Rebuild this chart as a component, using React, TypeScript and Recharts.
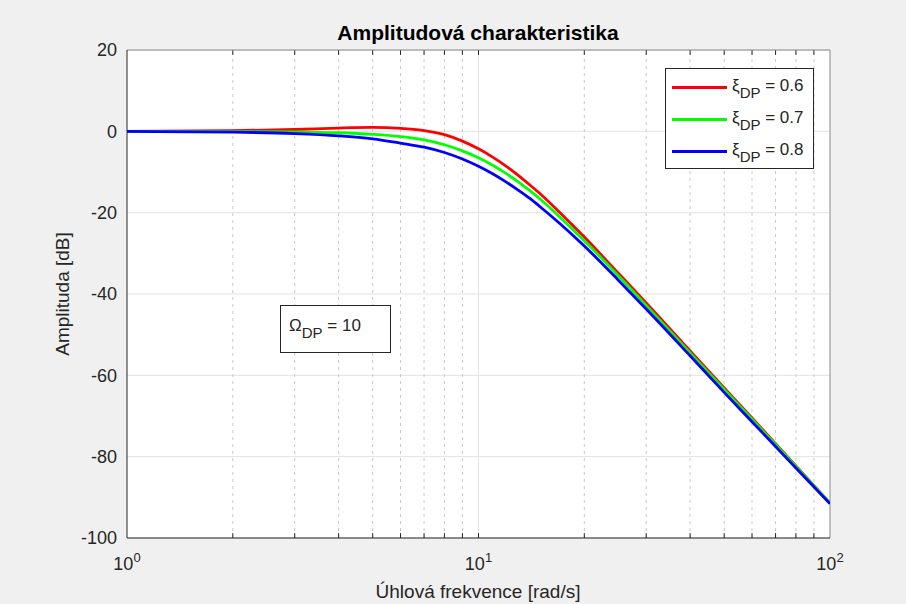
import {
  LineChart,
  Line,
  XAxis,
  YAxis,
  CartesianGrid,
  ReferenceLine,
} from 'recharts';

// Frequency grid [rad/s] and amplitude [dB] for each damping value
const FREQ = [1, 2, 3, 4, 5, 6, 7, 8, 9, 10, 11, 12, 13, 14, 15, 17, 20, 25, 30, 40, 50, 60, 70, 80, 100];
const XI_06 = [0, 0.15, 0.45, 0.8, 0.95, 0.75, 0.2, -0.8, -2.4, -4.3, -6.4, -8.6, -10.9, -13.2, -15.4, -19.9, -26.0, -34.9, -42.2, -54.0, -63.1, -70.5, -76.8, -82.3, -91.4];
const XI_07 = [0, -0.05, -0.15, -0.35, -0.75, -1.3, -2.1, -3.3, -4.8, -6.5, -8.4, -10.4, -12.5, -14.6, -16.7, -21.0, -26.9, -35.5, -42.8, -54.5, -63.5, -70.8, -77.0, -82.4, -91.4];
const XI_08 = [-0.02, -0.2, -0.55, -1.1, -1.85, -2.9, -3.9, -5.2, -6.8, -8.6, -10.5, -12.5, -14.5, -16.5, -18.6, -22.6, -28.2, -36.6, -43.7, -55.2, -64.2, -71.4, -77.5, -82.8, -91.6];

const Y_TICKS = [-100, -80, -60, -40, -20, 0, 20];
const X_TICKS = [1, 10, 100];
const MINOR_X = [2, 3, 4, 5, 6, 7, 8, 9, 20, 30, 40, 50, 60, 70, 80, 90];

const SERIES = [
  { key: 'xi06', label: '0.6', color: '#ff0000' },
  { key: 'xi07', label: '0.7', color: '#00ff00' },
  { key: 'xi08', label: '0.8', color: '#0000ff' },
];

const rows = FREQ.map((f, i) => ({ f, xi06: XI_06[i], xi07: XI_07[i], xi08: XI_08[i] }));

const FONT = '"Liberation Sans", Arial, Helvetica, sans-serif';
const INK = '#262626';

// 10^n style tick label for the log axis
function PowerTick(props: any) {
  const { x, y, payload } = props;
  const exp = Math.round(Math.log10(payload.value));
  return (
    <text x={x} y={y + 32} textAnchor="middle" fill={INK} fontSize={18} fontFamily={FONT}>
      <tspan>10</tspan>
      <tspan dy={-8} fontSize={13}>{exp}</tspan>
    </text>
  );
}

export default function App() {
  return (
    <div
      style={{
        position: 'absolute',
        left: 0,
        top: 0,
        width: 906,
        height: 604,
        background: '#f0f0f0',
        fontFamily: FONT,
        color: INK,
        overflow: 'hidden',
      }}
    >
      <LineChart width={906} height={604} data={rows} margin={{ top: 50, right: 76, bottom: 36, left: 67 }}>
        <CartesianGrid fill="#ffffff" stroke="#e3e3e3" vertical={false} />
        {MINOR_X.map((v) => (
          <ReferenceLine key={`g${v}`} x={v} stroke="#c9c9c9" strokeDasharray="3 4" />
        ))}
        <ReferenceLine x={10} stroke="#e3e3e3" />
        {/* inward tick marks on bottom and top edges */}
        {[...MINOR_X, 10].map((v) => (
          <ReferenceLine
            key={`tb${v}`}
            segment={[{ x: v, y: -100 }, { x: v, y: -98.8 }]}
            stroke={INK}
          />
        ))}
        {[...MINOR_X, 10].map((v) => (
          <ReferenceLine
            key={`tt${v}`}
            segment={[{ x: v, y: 20 }, { x: v, y: 18.8 }]}
            stroke={INK}
          />
        ))}
        <ReferenceLine y={20} stroke="#8a8a8a" />
        <ReferenceLine x={100} stroke="#8a8a8a" />
        <XAxis
          dataKey="f"
          type="number"
          scale="log"
          domain={[1, 100]}
          ticks={X_TICKS}
          allowDataOverflow
          height={30}
          stroke={INK}
          tickLine={false}
          tickSize={0}
          tickMargin={0}
          tick={<PowerTick />}
        />
        <YAxis
          type="number"
          domain={[-100, 20]}
          ticks={Y_TICKS}
          width={60}
          stroke={INK}
          tickLine={false}
          tickSize={0}
          tickMargin={10}
          tick={{ fill: INK, fontSize: 18, fontFamily: FONT }}
        />
        {SERIES.map((s) => (
          <Line
            key={s.key}
            type="monotone"
            dataKey={s.key}
            stroke={s.color}
            strokeWidth={2.8}
            dot={false}
            isAnimationActive={false}
          />
        ))}
      </LineChart>

      <div
        style={{
          position: 'absolute',
          left: 478,
          top: 33,
          transform: 'translate(-50%, -50%)',
          fontSize: 21,
          fontWeight: 'bold',
          whiteSpace: 'nowrap',
          color: '#000',
        }}
      >
        Amplitudová charakteristika
      </div>
      <div
        style={{
          position: 'absolute',
          left: 478,
          top: 592,
          transform: 'translate(-50%, -50%)',
          fontSize: 19,
          whiteSpace: 'nowrap',
        }}
      >
        Úhlová frekvence [rad/s]
      </div>
      <div
        style={{
          position: 'absolute',
          left: 63,
          top: 294,
          transform: 'translate(-50%, -50%) rotate(-90deg)',
          fontSize: 19,
          whiteSpace: 'nowrap',
        }}
      >
        Amplituda [dB]
      </div>

      {/* legend */}
      <div
        style={{
          position: 'absolute',
          left: 665,
          top: 68,
          width: 147,
          height: 99,
          background: '#fff',
          border: `1px solid ${INK}`,
        }}
      >
        {SERIES.map((s, i) => (
          <div
            key={s.key}
            style={{ position: 'absolute', left: 0, top: 18 + i * 32, width: '100%', height: 0 }}
          >
            <div
              style={{
                position: 'absolute',
                left: 6,
                top: -1.5,
                width: 55,
                height: 3,
                background: s.color,
              }}
            />
            <div
              style={{
                position: 'absolute',
                left: 66,
                top: -11,
                fontSize: 17,
                lineHeight: '20px',
                whiteSpace: 'nowrap',
              }}
            >
              ξ
              <span style={{ fontSize: 15, position: 'relative', top: 7 }}>DP</span> = {s.label}
            </div>
          </div>
        ))}
      </div>

      {/* parameter note */}
      <div
        style={{
          position: 'absolute',
          left: 280,
          top: 305,
          width: 109,
          height: 46,
          background: '#fff',
          border: `1px solid ${INK}`,
        }}
      >
        <div
          style={{
            position: 'absolute',
            left: 8,
            top: 10,
            fontSize: 17,
            lineHeight: '20px',
            whiteSpace: 'nowrap',
          }}
        >
          Ω<span style={{ fontSize: 15, position: 'relative', top: 7 }}>DP</span> = 10
        </div>
      </div>
    </div>
  );
}
